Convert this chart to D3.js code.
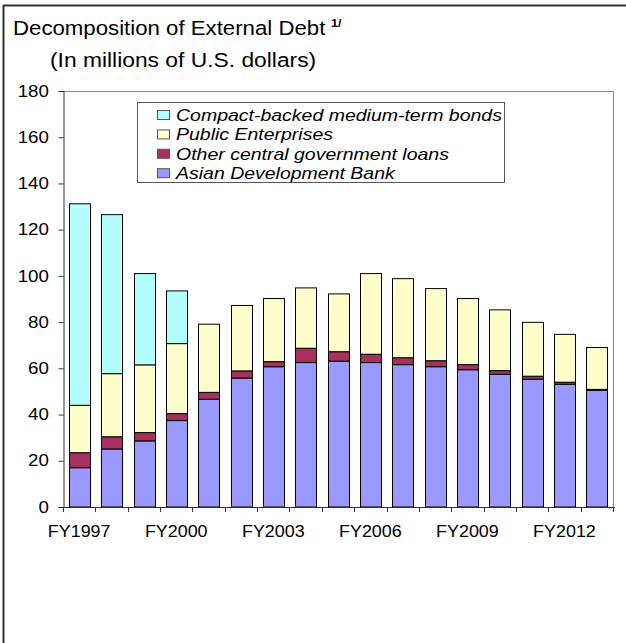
<!DOCTYPE html>
<html>
<head>
<meta charset="utf-8">
<script src="https://cdn.jsdelivr.net/npm/d3@7"></script>
<style>
  html, body { margin: 0; padding: 0; background: #fff; }
  svg { display: block; font-family: Arial, "Liberation Sans", sans-serif; }
</style>
</head>
<body>
<svg id="chart" width="626" height="643"></svg>
<script>
// Fiscal years shown on the category axis
const years = ["FY1997","FY1998","FY1999","FY2000","FY2001","FY2002","FY2003","FY2004","FY2005",
               "FY2006","FY2007","FY2008","FY2009","FY2010","FY2011","FY2012","FY2013"];
// Debt components, millions of U.S. dollars
const adb       = [17.0, 25.1, 28.6, 37.4, 46.6, 55.8, 60.7, 62.5, 63.1, 62.5, 61.6, 60.7, 59.4, 57.4, 55.3, 53.1, 50.5];
const other     = [6.5, 5.3, 3.6, 3.0, 3.0, 3.1, 2.2, 6.2, 4.1, 3.6, 3.0, 2.6, 2.2, 1.6, 1.3, 0.9, 0.4];
const publicEnt = [20.5, 27.3, 29.3, 30.3, 29.5, 28.3, 27.3, 26.1, 25.0, 34.9, 34.2, 31.2, 28.6, 26.3, 23.3, 20.7, 18.1];
const compact   = [87.2, 68.8, 39.5, 22.8, 0, 0, 0, 0, 0, 0, 0, 0, 0, 0, 0, 0, 0];
const yTicks    = [0, 20, 40, 60, 80, 100, 120, 140, 160, 180];
const xLabelYears = ["FY1997","FY2000","FY2003","FY2006","FY2009","FY2012"];

const seriesKeys  = ["adb", "other", "publicEnt", "compact"];
const legendOrder = ["compact", "publicEnt", "other", "adb"];
const seriesNames = {
  compact: "Compact-backed medium-term bonds",
  publicEnt: "Public Enterprises",
  other: "Other central government loans",
  adb: "Asian Development Bank"
};
const colors = { adb: "#9999FF", other: "#A8305F", publicEnt: "#FFFFCC", compact: "#B3FFFF" };

const rows = years.map((y, i) => ({ year: y, adb: adb[i], other: other[i], publicEnt: publicEnt[i], compact: compact[i] }));
const stacked = d3.stack().keys(seriesKeys)(rows);

const svg = d3.select("#chart");

// text drawn with a slightly widened face
function wideText(parent, x, y, size, sx, anchor) {
  return parent.append("text")
    .attr("transform", `translate(${x},${y}) scale(${sx},1)`)
    .attr("font-size", size).attr("fill", "#000")
    .attr("text-anchor", anchor || "start");
}

// outer frame (top and left edges)
svg.append("line").attr("x1", 3).attr("x2", 626).attr("y1", 5.5).attr("y2", 5.5)
   .attr("stroke", "#333").attr("stroke-width", 2);
svg.append("line").attr("x1", 3.5).attr("x2", 3.5).attr("y1", 5).attr("y2", 643)
   .attr("stroke", "#333").attr("stroke-width", 2);

// titles
const title = wideText(svg, 13, 35, 19.5, 1.14);
title.append("tspan").text("Decomposition of External Debt");
title.append("tspan").text("1/").attr("font-size", 11).attr("font-weight", "bold").attr("dx", 5).attr("dy", -8);
wideText(svg, 50, 67, 19.5, 1.17).text("(In millions of U.S. dollars)");

const m = { left: 63, right: 613, top: 91, bottom: 507 };

const x = d3.scaleBand().domain(years).range([m.left, m.right]).paddingInner(0.36).paddingOuter(0.18);
const y = d3.scaleLinear().domain([0, 180]).range([m.bottom, m.top]);

// plot area border (top/right)
svg.append("path")
   .attr("d", `M${m.left},${m.top + 0.5}H${m.right + 0.5}V${m.bottom}`)
   .attr("fill", "none").attr("stroke", "#888").attr("stroke-width", 1);

// stacked bars
svg.append("g").selectAll("g").data(stacked).join("g")
  .attr("fill", d => colors[d.key])
  .selectAll("rect").data(d => d.filter(s => s[1] - s[0] > 0)).join("rect")
  .attr("x", d => Math.round(x(d.data.year)) + 0.5)
  .attr("width", Math.round(x.bandwidth()))
  .attr("y", d => y(d[1]))
  .attr("height", d => y(d[0]) - y(d[1]))
  .attr("stroke", "#000").attr("stroke-width", 1);

// y axis
const sxTick = 1.17;
const yAxis = svg.append("g").attr("transform", `translate(${m.left + 0.5},0)`)
  .call(d3.axisLeft(y).tickValues(yTicks).tickSize(5).tickPadding(7.5));
yAxis.select(".domain").attr("stroke", "#333");
yAxis.selectAll(".tick line").attr("stroke", "#333");
yAxis.selectAll("text")
  .attr("font-size", 16).attr("fill", "#000")
  .attr("font-family", "Arial, 'Liberation Sans', sans-serif")
  .attr("transform", `scale(${sxTick},1)`);

// x axis: tick marks at every category boundary, labels every third year
const bounds = d3.range(years.length + 1).map(i => m.left + i * (m.right - m.left) / years.length);
const xg = svg.append("g");
xg.append("line").attr("x1", m.left).attr("x2", m.right + 2).attr("y1", m.bottom + 0.5).attr("y2", m.bottom + 0.5)
  .attr("stroke", "#333");
xg.selectAll("line.tk").data(bounds).join("line").attr("class", "tk")
  .attr("x1", d => Math.round(d) + 0.5).attr("x2", d => Math.round(d) + 0.5)
  .attr("y1", m.bottom).attr("y2", m.bottom + 5).attr("stroke", "#333");
xLabelYears.forEach(d => {
  wideText(xg, x(d) + x.bandwidth() / 2, m.bottom + 30, 16, 1.12, "middle").text(d);
});

// legend
const lg = svg.append("g");
lg.append("rect").attr("x", 137.5).attr("y", 102.5).attr("width", 367).attr("height", 80)
  .attr("fill", "#fff").attr("stroke", "#555");
legendOrder.forEach((k, i) => {
  const base = 121 + i * 19.4;
  lg.append("rect").attr("x", 157.5).attr("y", base - 10.5).attr("width", 12).attr("height", 9)
    .attr("fill", colors[k]).attr("stroke", "#555");
  wideText(lg, 176, base, 16.8, 1.16).attr("font-style", "italic").text(seriesNames[k]);
});
</script>
</body>
</html>
